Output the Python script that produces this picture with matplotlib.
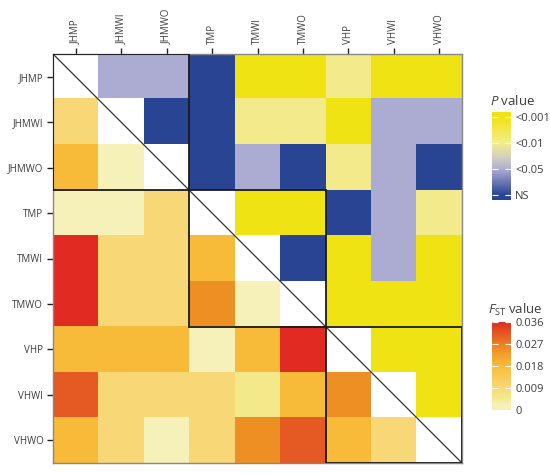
import numpy as np
import matplotlib
matplotlib.use("Agg")
import matplotlib.pyplot as plt
from matplotlib.colors import LinearSegmentedColormap
from matplotlib.patches import Rectangle

plt.rcParams['font.family'] = ['Open Sans', 'DejaVu Sans']
plt.rcParams['mathtext.fontset'] = 'custom'
plt.rcParams['mathtext.rm'] = 'Open Sans'
plt.rcParams['mathtext.it'] = 'Open Sans:italic'

populations = ["JHMP", "JHMWI", "JHMWO", "TMP", "TMWI", "TMWO", "VHP", "VHWI", "VHWO"]

# P value codes (upper triangle, row i, columns i+1..8): 0=NS, 1=<0.05, 2=<0.01, 3=<0.001
p_codes = [
    [1, 1, 0, 3, 3, 2, 3, 3],
    [0, 0, 2, 2, 3, 1, 1],
    [0, 1, 0, 2, 1, 0],
    [3, 3, 0, 1, 2],
    [0, 3, 1, 3],
    [3, 3, 3],
    [3, 3],
    [3],
]
p_tick_labels = ["NS", "<0.05", "<0.01", "<0.001"]

# FST values (lower triangle, row i, columns 0..i-1)
fst_values = [
    [],
    [0.009],
    [0.018, 0.002],
    [0.002, 0.002, 0.009],
    [0.036, 0.009, 0.009, 0.018],
    [0.036, 0.009, 0.009, 0.025, 0.002],
    [0.018, 0.018, 0.018, 0.002, 0.018, 0.036],
    [0.031, 0.009, 0.009, 0.009, 0.005, 0.018, 0.025],
    [0.018, 0.009, 0.002, 0.009, 0.025, 0.031, 0.018, 0.009],
]
fst_ticks = [0, 0.009, 0.018, 0.027, 0.036]
fst_tick_labels = ["0", "0.009", "0.018", "0.027", "0.036"]

n = len(populations)
P = np.full((n, n), np.nan)
F = np.full((n, n), np.nan)
for i, row in enumerate(p_codes):
    for k, v in enumerate(row):
        P[i, i + 1 + k] = v
for i, row in enumerate(fst_values):
    for j, v in enumerate(row):
        F[i, j] = v

p_cmap = LinearSegmentedColormap.from_list("pval", [
    (0.0, "#2a4494"), (0.059, "#2a4494"), (0.353, "#adadd4"), (0.5, "#d4d2bc"),
    (0.647, "#f4ec8c"), (0.941, "#f0e314"), (1.0, "#f0e314")])
fst_cmap = LinearSegmentedColormap.from_list("fst", [
    (0.0, "#f6f1b9"), (0.056, "#f6f1b9"), (0.139, "#f3e98a"), (0.25, "#f8d878"),
    (0.5, "#f9bc3a"), (0.694, "#ef9025"), (0.861, "#e65a22"), (1.0, "#e12b22")])

fig = plt.figure(figsize=(5.5, 4.75), dpi=100)
ax = fig.add_axes([53 / 550, 1 - 463 / 475, 409 / 550, 409 / 475])
ax.set_facecolor("white")
p_norm = plt.Normalize(-0.2, 3.2)
imP = ax.imshow(np.ma.masked_invalid(P), cmap=p_cmap, norm=p_norm, aspect="auto",
                interpolation="nearest")
imF = ax.imshow(np.ma.masked_invalid(F), cmap=fst_cmap, vmin=0, vmax=0.036, aspect="auto",
                interpolation="nearest")
ax.set_xlim(-0.5, n - 0.5)
ax.set_ylim(n - 0.5, -0.5)

ax.plot([-0.5, n - 0.5], [-0.5, n - 0.5], color="#333333", lw=0.9)
for s in (0, 3, 6):
    ax.add_patch(Rectangle((s - 0.5, s - 0.5), 3, 3, fill=False, ec="#1a1a1a", lw=1.3, zorder=5))

text_color = "#3c3c3c"
ax.set_xticks(range(n))
ax.set_yticks(range(n))
ax.set_xticklabels(populations, rotation=90)
ax.set_yticklabels(populations)
ax.xaxis.tick_top()
ax.tick_params(axis="both", length=4, width=1.0, color="#222222", labelsize=7,
               labelcolor=text_color, pad=3)
for sp in ax.spines.values():
    sp.set_color("#888888")
    sp.set_linewidth(1.0)

# P value colorbar
caxP = fig.add_axes([492 / 550, 1 - 200 / 475, 19 / 550, 88 / 475])
cbP = fig.colorbar(imP, cax=caxP)
cbP.set_ticks([0, 1, 2, 3])
cbP.set_ticklabels(p_tick_labels)
caxP.tick_params(direction="in", color="white", length=4, width=0.8, labelsize=8,
                 labelcolor=text_color, pad=3, left=True, right=True)
cbP.outline.set_visible(False)
fig.text(490 / 550, 1 - 101 / 475, "$P$ value", fontsize=9.5, color=text_color,
         ha="left", va="center")

# FST colorbar
caxF = fig.add_axes([492 / 550, 1 - 410 / 475, 19 / 550, 88 / 475])
cbF = fig.colorbar(imF, cax=caxF)
cbF.set_ticks(fst_ticks)
cbF.set_ticklabels(fst_tick_labels)
caxF.tick_params(direction="in", color="white", length=4, width=0.8, labelsize=8,
                 labelcolor=text_color, pad=3, left=True, right=True)
cbF.outline.set_visible(False)
fig.text(488 / 550, 1 - 310 / 475, r"$F_{\mathrm{ST}}$ value", fontsize=9.5, color=text_color,
         ha="left", va="center")

fig.savefig("out.png", dpi=100)
